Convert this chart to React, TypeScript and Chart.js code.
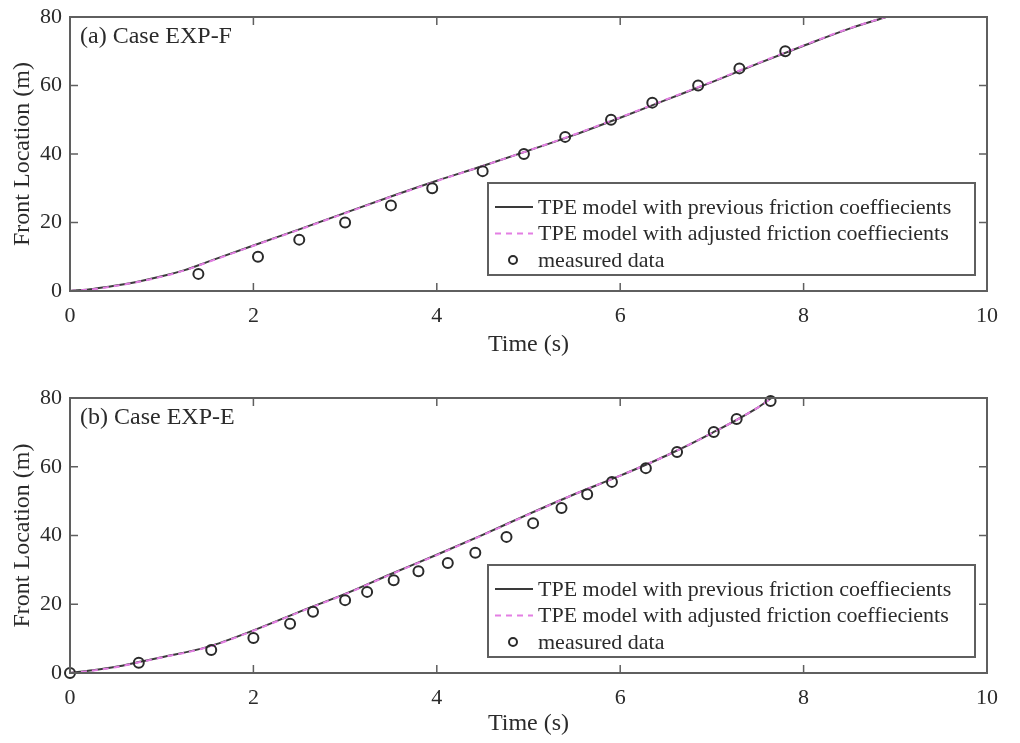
import React, { useEffect, useRef } from 'react';
import { Chart, registerables } from 'chart.js';

Chart.register(...registerables);

const FONT = '"Liberation Serif", "Times New Roman", serif';

// ---- Panel (a) Case EXP-F ----
const timeA = [0, 0.25, 0.5, 0.75, 1, 1.25, 1.5, 2, 2.5, 3, 3.5, 4, 4.5, 5, 5.5, 6, 6.5, 7, 7.5, 8, 8.5, 8.9];
const prevA = [0, 0.6, 1.6, 2.8, 4.3, 6.1, 8.5, 13.3, 18.0, 22.8, 27.6, 32.2, 36.5, 41.0, 45.6, 50.6, 55.8, 61.0, 66.4, 71.6, 76.6, 80.0];
const adjA = [0, 0.5, 1.5, 2.7, 4.2, 6.0, 8.4, 13.2, 17.9, 22.7, 27.5, 32.1, 36.5, 41.0, 45.7, 50.7, 55.9, 61.1, 66.5, 71.7, 76.7, 80.0];
const measTimeA = [1.4, 2.05, 2.5, 3.0, 3.5, 3.95, 4.5, 4.95, 5.4, 5.9, 6.35, 6.85, 7.3, 7.8];
const measA = [5, 10, 15, 20, 25, 30, 35, 40, 45, 50, 55, 60, 65, 70];

// ---- Panel (b) Case EXP-E ----
const timeB = [0, 0.25, 0.5, 0.75, 1, 1.5, 2, 2.5, 3, 3.5, 4, 4.5, 5, 5.5, 6, 6.5, 7, 7.5, 7.65];
const prevB = [0, 0.8, 1.8, 3.2, 4.6, 7.6, 12.4, 17.8, 23.0, 28.8, 34.4, 40.2, 46.2, 52.0, 57.4, 63.2, 69.8, 77.2, 80.0];
const adjB = [0, 0.7, 1.7, 3.1, 4.5, 7.5, 12.3, 17.7, 22.9, 28.7, 34.3, 40.1, 46.1, 52.0, 57.4, 63.2, 69.8, 77.2, 80.0];
const measTimeB = [0, 0.75, 1.54, 2.0, 2.4, 2.65, 3.0, 3.24, 3.53, 3.8, 4.12, 4.42, 4.76, 5.05, 5.36, 5.64, 5.91, 6.28, 6.62, 7.02, 7.27, 7.64];
const measB = [0, 3, 6.7, 10.2, 14.3, 17.8, 21.2, 23.6, 27, 29.6, 32, 35, 39.6, 43.6, 48, 52, 55.6, 59.6, 64.3, 70.1, 73.9, 79.1];

// ---- labels ----
const seriesLabels = [
  'TPE model with previous friction coeffiecients',
  'TPE model with adjusted friction coeffiecients',
  'measured data',
];
const xTitle = 'Time (s)';
const yTitle = 'Front Location (m)';

const AXIS_COLOR = '#5f5f5f';
const TEXT_COLOR = '#2b2b2b';

function pairs(xs: number[], ys: number[]) {
  return xs.map((x, i) => ({ x, y: ys[i] }));
}

const decorPlugin = {
  id: 'decor',
  afterDraw(chart: any, _args: any, opts: any) {
    const { ctx, chartArea: a, scales } = chart;
    const xs = scales.x;
    const ys = scales.y;
    ctx.save();
    // box
    ctx.strokeStyle = AXIS_COLOR;
    ctx.lineWidth = 2;
    ctx.strokeRect(a.left, a.top, a.right - a.left, a.bottom - a.top);
    // inward ticks
    const L = 8;
    ctx.lineWidth = 1.5;
    ctx.beginPath();
    xs.ticks.forEach((t: any) => {
      if (t.value <= xs.min || t.value >= xs.max) return;
      const px = xs.getPixelForValue(t.value);
      ctx.moveTo(px, a.bottom);
      ctx.lineTo(px, a.bottom - L);
      ctx.moveTo(px, a.top);
      ctx.lineTo(px, a.top + L);
    });
    ys.ticks.forEach((t: any) => {
      if (t.value <= ys.min || t.value >= ys.max) return;
      const py = ys.getPixelForValue(t.value);
      ctx.moveTo(a.left, py);
      ctx.lineTo(a.left + L, py);
      ctx.moveTo(a.right, py);
      ctx.lineTo(a.right - L, py);
    });
    ctx.stroke();

    // caption
    ctx.font = `24px ${FONT}`;
    ctx.fillStyle = TEXT_COLOR;
    ctx.textBaseline = 'middle';
    ctx.textAlign = 'left';
    ctx.fillText(opts.caption, a.left + 10, a.top + 20);

    // legend
    const w = 487;
    const h = 92;
    const bx = a.right - 12 - w;
    const by = a.bottom - 16 - h;
    ctx.fillStyle = '#ffffff';
    ctx.fillRect(bx, by, w, h);
    ctx.strokeStyle = AXIS_COLOR;
    ctx.lineWidth = 2;
    ctx.strokeRect(bx, by, w, h);
    chart.data.datasets.forEach((ds: any, i: number) => {
      const cy = by + 24 + i * 26.5;
      ctx.save();
      if (ds.showLine) {
        ctx.strokeStyle = ds.borderColor;
        ctx.lineWidth = ds.borderWidth;
        ctx.setLineDash(ds.borderDash || []);
        ctx.beginPath();
        ctx.moveTo(bx + 7, cy);
        ctx.lineTo(bx + 45, cy);
        ctx.stroke();
      } else {
        ctx.strokeStyle = ds.pointBorderColor;
        ctx.lineWidth = 2;
        ctx.beginPath();
        ctx.arc(bx + 25, cy, 4, 0, Math.PI * 2);
        ctx.stroke();
      }
      ctx.restore();
      ctx.fillStyle = TEXT_COLOR;
      ctx.font = `22px ${FONT}`;
      ctx.textBaseline = 'middle';
      ctx.fillText(ds.label, bx + 50, cy + 1);
    });
    ctx.restore();
  },
};

type PanelProps = {
  caption: string;
  t: number[];
  prev: number[];
  adj: number[];
  measT: number[];
  meas: number[];
  height: number;
  plotTop: number;
  plotBottom: number;
  xTitlePad: number;
};

function Panel(p: PanelProps) {
  const ref = useRef<HTMLCanvasElement | null>(null);
  useEffect(() => {
    if (!ref.current) return;
    const tickFont = { family: FONT, size: 22 };
    const titleFont = { family: FONT, size: 24 };
    const chart = new Chart(ref.current, {
      type: 'scatter',
      data: {
        datasets: [
          {
            label: seriesLabels[0],
            data: pairs(p.t, p.prev),
            showLine: true,
            borderColor: '#3a3a3a',
            borderWidth: 2,
            pointRadius: 0,
            cubicInterpolationMode: 'monotone',
            order: 2,
          } as any,
          {
            label: seriesLabels[1],
            data: pairs(p.t, p.adj),
            showLine: true,
            borderColor: '#e37fe3',
            borderWidth: 2,
            borderDash: [6, 5],
            pointRadius: 0,
            cubicInterpolationMode: 'monotone',
            order: 1,
          } as any,
          {
            label: seriesLabels[2],
            data: pairs(p.measT, p.meas),
            showLine: false,
            pointStyle: 'circle',
            pointRadius: 5,
            pointBorderWidth: 2,
            pointBorderColor: '#2a2a2a',
            pointBackgroundColor: 'rgba(0,0,0,0)',
            clip: false,
            order: 0,
          } as any,
        ],
      },
      options: {
        animation: false,
        responsive: false,
        maintainAspectRatio: false,
        layout: { padding: { top: p.plotTop, right: 33, left: 0, bottom: 0 } },
        plugins: {
          legend: { display: false },
          tooltip: { enabled: false },
          decor: { caption: p.caption },
        } as any,
        scales: {
          x: {
            type: 'linear',
            min: 0,
            max: 10,
            grid: { display: false, drawTicks: false },
            border: { display: false },
            ticks: { stepSize: 2, font: tickFont, color: TEXT_COLOR, padding: 12, maxRotation: 0 },
            title: {
              display: true,
              text: xTitle,
              font: titleFont,
              color: TEXT_COLOR,
              padding: { top: 0, bottom: p.xTitlePad },
            },
            afterFit: (s: any) => {
              s.height = p.height - p.plotBottom;
              s.paddingLeft = 0;
              s.paddingRight = 0;
            },
          },
          y: {
            type: 'linear',
            min: 0,
            max: 80,
            grid: { display: false, drawTicks: false },
            border: { display: false },
            ticks: { stepSize: 20, font: tickFont, color: TEXT_COLOR, padding: 8 },
            title: {
              display: true,
              text: yTitle,
              font: titleFont,
              color: TEXT_COLOR,
              padding: { top: 8, bottom: 0 },
            },
            afterFit: (s: any) => {
              s.width = 70;
              s.paddingTop = 0;
              s.paddingBottom = 0;
            },
          },
        },
      } as any,
      plugins: [decorPlugin],
    });
    return () => chart.destroy();
  }, []);
  return <canvas ref={ref} width={1020} height={p.height} style={{ display: 'block', width: 1020, height: p.height }} />;
}

export default function App() {
  return (
    <div style={{ position: 'absolute', left: 0, top: 0, width: 1020, height: 743, background: '#fff' }}>
      <Panel
        caption="(a) Case EXP-F"
        t={timeA}
        prev={prevA}
        adj={adjA}
        measT={measTimeA}
        meas={measA}
        height={370}
        plotTop={17}
        plotBottom={291}
        xTitlePad={11}
      />
      <Panel
        caption="(b) Case EXP-E"
        t={timeB}
        prev={prevB}
        adj={adjB}
        measT={measTimeB}
        meas={measB}
        height={373}
        plotTop={28}
        plotBottom={303}
        xTitlePad={5}
      />
    </div>
  );
}
